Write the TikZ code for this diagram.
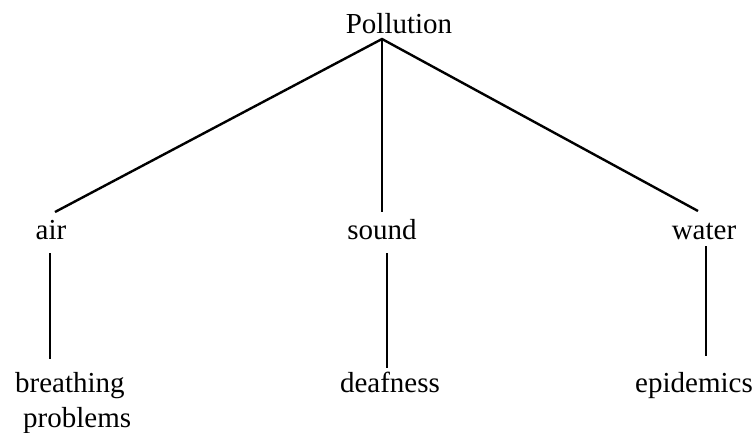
\documentclass[tikz,border=0pt]{standalone}
\usepackage{fontspec}
\setmainfont{Liberation Serif}
\begin{document}
\begin{tikzpicture}[x=1pt,y=-1pt,
  label/.style={inner sep=0pt,anchor=base,font=\fontsize{29}{35}\selectfont},
  branch/.style={line width=2.4pt,line cap=butt}]
\useasboundingbox (0,0) rectangle (753,432);

% labels
\node[label] (root) at (399,33) {Pollution};
\node[label] (air) at (51,239) {air};
\node[label] (sound) at (382,239) {sound};
\node[label] (water) at (704,239) {water};
% two-line label: the base anchor sits on the last line
\node[label,align=left,anchor=base west] (breath) at (15,427) {breathing\\\hspace*{8pt}problems};
\node[label] (deaf) at (390,392) {deafness};
\node[label] (epid) at (694,392) {epidemics};

% connector ends
\coordinate (apex) at (382,39);
\coordinate (airTop) at (55,212);
\coordinate (soundTop) at (382,212);
\coordinate (waterTop) at (698,211);
\coordinate (airLow1) at (50,253);
\coordinate (airLow2) at (50,359);
\coordinate (soundLow1) at (387,253);
\coordinate (soundLow2) at (387,368);
\coordinate (waterLow1) at (706,246);
\coordinate (waterLow2) at (706,356);

% tree branches
\draw[branch] (airTop) -- (apex) -- (waterTop);
\draw[branch] (apex) -- (soundTop);
\draw[branch] (airLow1) -- (airLow2);
\draw[branch] (soundLow1) -- (soundLow2);
\draw[branch] (waterLow1) -- (waterLow2);
\end{tikzpicture}
\end{document}
